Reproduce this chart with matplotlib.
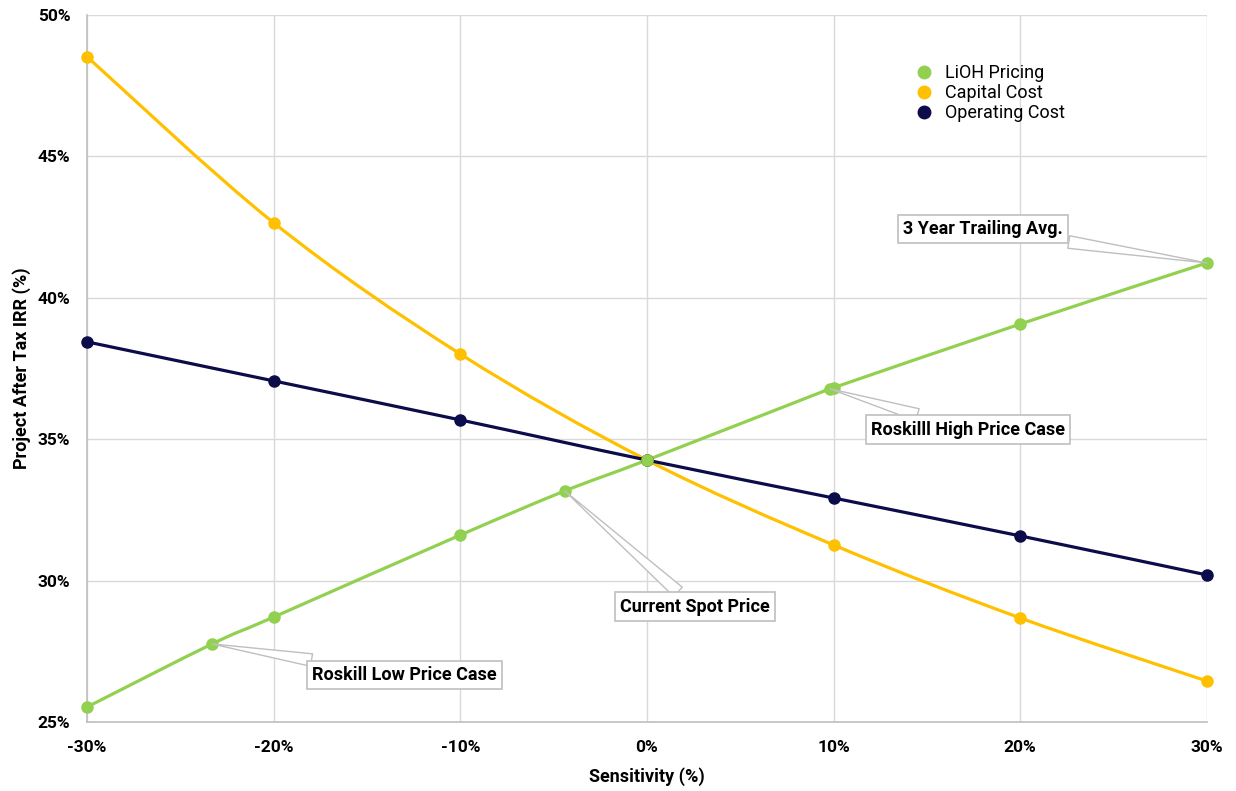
import matplotlib.pyplot as plt
import numpy as np
from matplotlib.path import Path
from matplotlib.patches import PathPatch
from matplotlib.lines import Line2D
from matplotlib.ticker import FuncFormatter

plt.rcParams["font.family"] = ["Roboto", "DejaVu Sans"]

# sensitivity (%) and after-tax IRR (%)
lioh_x = [-30, -23.3, -20, -10, -4.4, 0, 9.8, 10, 20, 30]
lioh_y = [25.53, 27.76, 28.71, 31.61, 33.17, 34.26, 36.78, 36.82, 39.07, 41.23]

capex_x = [-30, -20, -10, 0, 10, 20, 30]
capex_y = [48.52, 42.65, 38.01, 34.26, 31.26, 28.68, 26.45]

opex_x = [-30, -20, -10, 0, 10, 20, 30]
opex_y = [38.44, 37.06, 35.68, 34.26, 32.92, 31.58, 30.20]

GREEN = "#92D050"
YELLOW = "#FFC000"
NAVY = "#0C0C4A"


def smooth_path(xs, ys):
    # Catmull-Rom style bezier through the points (like Excel's smoothed line)
    pts = np.column_stack([xs, ys]).astype(float)
    verts = [pts[0]]
    codes = [Path.MOVETO]
    n = len(pts)
    for i in range(n - 1):
        p0 = pts[i - 1] if i > 0 else pts[i]
        p1 = pts[i]
        p2 = pts[i + 1]
        p3 = pts[i + 2] if i + 2 < n else pts[i + 1]
        c1 = p1 + (p2 - p0) / 6
        c2 = p2 - (p3 - p1) / 6
        verts += [c1, c2, p2]
        codes += [Path.CURVE4] * 3
    return Path(verts, codes)


fig = plt.figure(figsize=(12.36, 7.91), dpi=100)
ax = fig.add_axes([0.0704, 0.0872, 0.906, 0.894])

for xs, ys, c in [(capex_x, capex_y, YELLOW), (opex_x, opex_y, NAVY), (lioh_x, lioh_y, GREEN)]:
    ax.add_patch(PathPatch(smooth_path(xs, ys), fill=False, edgecolor=c, lw=2.3, zorder=3,
                           capstyle="round"))
    ax.plot(xs, ys, "o", color=c, markersize=8, zorder=4, clip_on=False)

ax.set_xlim(-30, 30)
ax.set_ylim(25, 50)
ax.set_xticks(np.arange(-30, 31, 10))
ax.set_yticks(np.arange(25, 51, 5))
ax.xaxis.set_major_formatter(FuncFormatter(lambda v, p: f"{v:.0f}%"))
ax.yaxis.set_major_formatter(FuncFormatter(lambda v, p: f"{v:.0f}%"))
ax.grid(True, color="#d9d9d9", lw=1)
ax.set_axisbelow(True)
for s in ["top", "right"]:
    ax.spines[s].set_visible(False)
for s in ["left", "bottom"]:
    ax.spines[s].set_color("#bfbfbf")
    ax.spines[s].set_linewidth(1.2)
ax.tick_params(length=0, labelsize=12.5)
ax.tick_params(axis="x", pad=13)
ax.tick_params(axis="y", pad=12)
for lab in ax.get_xticklabels() + ax.get_yticklabels():
    lab.set_fontweight("bold")

ax.set_xlabel("Sensitivity (%)", fontsize=13, fontweight="bold", labelpad=9)
ax.set_ylabel("Project After Tax IRR (%)", fontsize=13, fontweight="bold", labelpad=5)

handles = [
    Line2D([], [], ls="", marker="o", color=GREEN, markersize=9, label="LiOH Pricing"),
    Line2D([], [], ls="", marker="o", color=YELLOW, markersize=9, label="Capital Cost"),
    Line2D([], [], ls="", marker="o", color=NAVY, markersize=9, label="Operating Cost"),
]
ax.legend(handles=handles, loc="upper left", bbox_to_anchor=(0.738, 0.930), frameon=False,
          fontsize=13, handletextpad=0.55, labelspacing=0.1, handlelength=1.2,
          borderaxespad=0, borderpad=0)

callouts = [
    ("3 Year Trailing Avg.", (30, 41.23), (18.0, 42.43)),
    ("Roskilll High Price Case", (9.8, 36.78), (17.2, 35.33)),
    ("Current Spot Price", (-4.4, 33.17), (2.57, 29.07)),
    ("Roskill Low Price Case", (-23.3, 27.76), (-13.0, 26.66)),
]
for text, xy, xytext in callouts:
    ax.annotate(text, xy=xy, xytext=xytext, ha="center", va="center", fontsize=13,
                fontweight="bold", zorder=6,
                bbox=dict(boxstyle="square,pad=0.3", fc="white", ec="#bfbfbf", lw=1.2),
                arrowprops=dict(arrowstyle="wedge,tail_width=0.7", fc="white", ec="#bfbfbf",
                                lw=1.0, shrinkA=0, shrinkB=0))

fig.savefig("out.png", dpi=100)
